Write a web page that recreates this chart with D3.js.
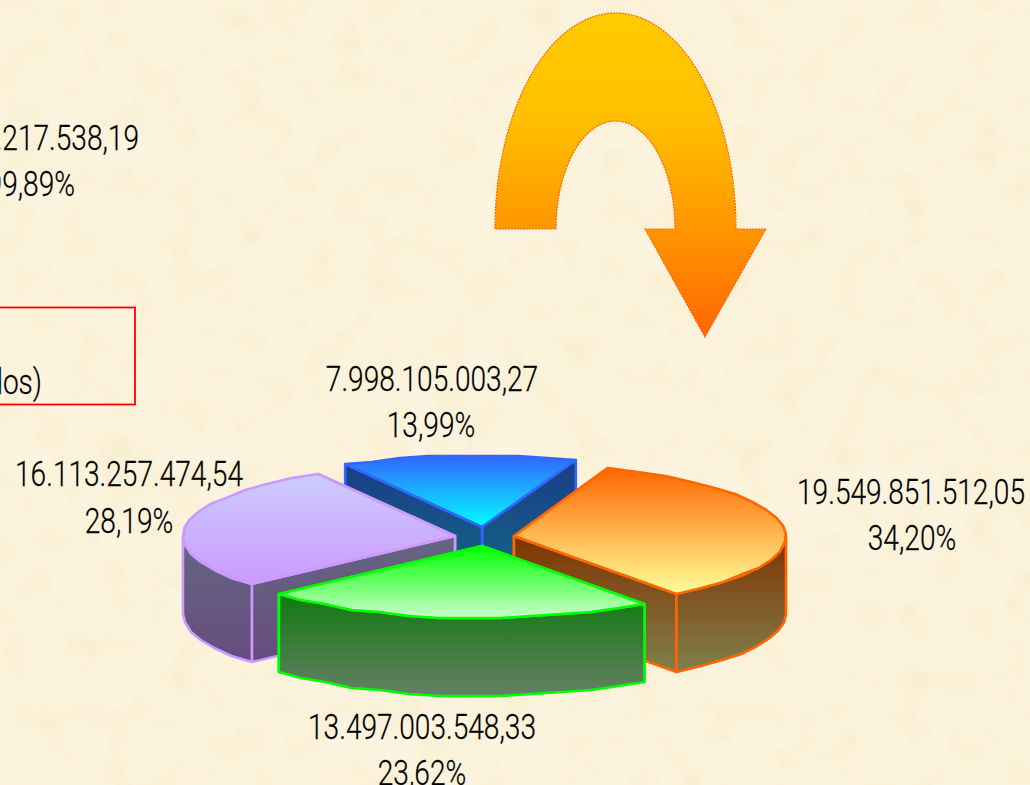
<!DOCTYPE html>
<html><head><meta charset="utf-8">
<script src="https://cdn.jsdelivr.net/npm/d3@7"></script>
<style>html,body{margin:0;padding:0;background:#fbf1da;overflow:hidden}svg{display:block}
text{font-family:"Roboto","Liberation Sans",sans-serif;font-weight:300;fill:#000;font-size:36px;stroke:#000;stroke-width:0.25px}</style>
</head><body><div id="chart"></div>
<script>
// data, in slice drawing order around the pie (clockwise from the back)
const categories = ["blue", "orange", "green", "lavender"];
const values = [7998105003.27, 19549851512.05, 13497003548.33, 16113257474.54];
const valueLabels = ["7.998.105.003,27", "19.549.851.512,05", "13.497.003.548,33", "16.113.257.474,54"];
const percentLabels = ["13,99%", "34,20%", "23,62%", "28,19%"];
const totalLabels = ["57.158.217.538,19", "99,89%"];
const boxLabel = "dos)";

// styling + layout
const topColors = [["#3366ff","#00ffff"],["#ff6600","#ffff99"],["#00ff00","#ccffcc"],["#ccccff","#cc99ff"]];
const wallColors = [["#1c3a8a","#0f7080"],["#7f3300","#80804d"],["#0f7a0f","#668066"],["#666680","#664c80"]];
const strokes = ["#3366ff","#ff6600","#00ff00","#cc99ff"];
const apexes = [[482,527],[514,536],[482,546],[455,536]];
const labelPos = [[432,391,431,437],[911,504,912,550],[422,739,422,785],[129,486,129,533]];
const drawOrder = [0,3,1,2];
const RX = 272, RY = 72, DEPTH = 78, STEP = Math.PI/27, SNAP = 2;
const TEXT_SCALE = 0.78;

const W = 1030, H = 785;
const svg = d3.select("#chart").append("svg").attr("width",W).attr("height",H);
const defs = svg.append("defs");

// parchment background
const f = defs.append("filter").attr("id","paper").attr("x",0).attr("y",0).attr("width","100%").attr("height","100%");
f.append("feTurbulence").attr("type","fractalNoise").attr("baseFrequency","0.03").attr("numOctaves",3).attr("seed",7);
f.append("feColorMatrix").attr("type","matrix").attr("values",
  "0 0 0 0 0.93  0 0 0 0 0.84  0 0 0 0 0.60  2.2 0 0 0 -0.85");
svg.append("rect").attr("width",W).attr("height",H).attr("fill","#fdf4df");
svg.append("rect").attr("width",W).attr("height",H).attr("filter","url(#paper)").attr("opacity",0.7);

// gradient helper
function grad(id, stops, y1, y2){
  const g = defs.append("linearGradient").attr("id",id).attr("gradientUnits","userSpaceOnUse")
    .attr("x1",0).attr("x2",0).attr("y1",y1).attr("y2",y2);
  stops.forEach((c,k)=>g.append("stop").attr("offset",k/(stops.length-1)).attr("stop-color",c));
}

const deg = Math.PI/180;
const start = -30.2*deg;
const arcs = d3.pie().sort(null).startAngle(start).endAngle(start+2*Math.PI)(values);
const line = d3.line().curve(d3.curveLinear);
const sampler = (a0,a1) => {
  const n = Math.max(1,Math.round((a1-a0)/STEP));
  return d3.range(n+1).map(i => a0+(a1-a0)*i/n);
};

drawOrder.forEach(i => {
  const a = arcs[i], [cx,cy] = apexes[i];
  const pt = (t,dz=0) => [cx+RX*Math.sin(t), Math.round((cy-RY*Math.cos(t))/SNAP)*SNAP+dz];
  const apex = (dz=0) => [cx,cy+dz];
  const angles = sampler(a.startAngle,a.endAngle);
  const topPts = [apex(), ...angles.map(t=>pt(t))];
  const ys = topPts.map(p=>p[1]);
  const topMin = d3.min(ys), topMax = d3.max(ys);
  const lo = Math.max(a.startAngle,90*deg), hi = Math.min(a.endAngle,270*deg);
  const rim = hi>lo ? sampler(lo,hi) : null;
  const wallMin = rim ? d3.min(rim,t=>pt(t)[1]) : topMin;
  grad("t"+i, topColors[i], topMin, topMax);
  grad("w"+i, wallColors[i], wallMin, topMax+DEPTH);
  const g = svg.append("g").attr("stroke",strokes[i]).attr("stroke-width",2.6).attr("stroke-linejoin","round");
  const wall = pts => g.append("path").attr("d",line(pts)+"Z").attr("fill",`url(#w${i})`);
  const radial = t => wall([apex(),pt(t),pt(t,DEPTH),apex(DEPTH)]);
  // far radial wall first, nearer radial wall after
  [a.startAngle,a.endAngle].sort((p,q)=>pt(p)[1]-pt(q)[1]).forEach(radial);
  // outer wall: only the part of the rim facing the viewer
  if (rim) wall([...rim.map(t=>pt(t)), ...rim.slice().reverse().map(t=>pt(t,DEPTH))]);
  g.append("path").attr("d",line(topPts)+"Z").attr("fill",`url(#t${i})`);
});

// condensed label helper
function label(str,x,y,anchor){
  svg.append("text").attr("transform",`translate(${x},${y}) scale(${TEXT_SCALE},1)`)
    .attr("text-anchor",anchor).text(str);
}
categories.forEach((c,i)=>{
  const p = labelPos[i];
  label(valueLabels[i],p[0],p[1],"middle");
  label(percentLabels[i],p[2],p[3],"middle");
});

// total labels (run off the left edge)
label(totalLabels[0],139,150,"end");
label(totalLabels[1],75,196,"end");

// red box
svg.append("rect").attr("x",-10).attr("y",307.5).attr("width",145).attr("height",97)
  .attr("fill","none").attr("stroke","#ff0000").attr("stroke-width",1.8);
label(boxLabel,42,394,"end");

// curved arrow
grad("arrow",["#ffcc00","#ffbf00","#ff9600","#ff6600"],13,337);
svg.append("path")
  .attr("d","M495,229 A120.5,216 0 0 1 736,229 L766,229 L705,337 L645,229 L675,229 A59.5,108 0 0 0 556,229 Z")
  .attr("fill","url(#arrow)").attr("stroke","#ff6600").attr("stroke-width",1.2).attr("stroke-dasharray","2 1");
</script></body></html>
